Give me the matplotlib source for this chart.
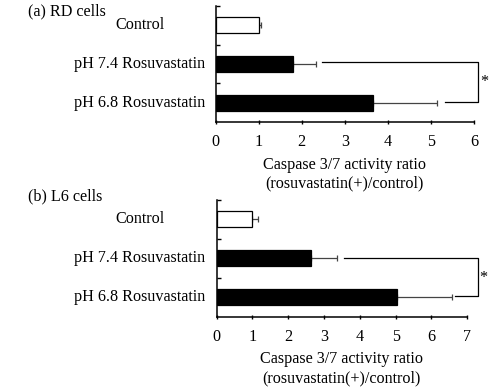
import matplotlib
matplotlib.use("Agg")
import matplotlib.pyplot as plt
import matplotlib.transforms as mtransforms

plt.rcParams['font.family'] = ['Liberation Serif', 'DejaVu Serif']

categories = ["Control", "pH 7.4 Rosuvastatin", "pH 6.8 Rosuvastatin"]
rd_values = [1.0, 1.80, 3.66]
rd_errors = [0.05, 0.53, 1.47]
l6_values = [1.0, 2.64, 5.04]
l6_errors = [0.17, 0.71, 1.53]
bar_colors = ["white", "black", "black"]
rd_xticks = [0, 1, 2, 3, 4, 5, 6]
l6_xticks = [0, 1, 2, 3, 4, 5, 6, 7]
panel_titles = ["(a) RD cells", "(b) L6 cells"]
xlabel = "Caspase 3/7 activity ratio\n(rosuvastatin(+)/control)"

W, H = 494, 387
FS = 11.6
fig = plt.figure(figsize=(W / 100, H / 100), dpi=100)

def px_axes(l, r, t, b):
    return fig.add_axes([l / W, 1 - b / H, (r - l) / W, (b - t) / H])

ax1 = px_axes(215.5, 474, 6, 122)
ax2 = px_axes(216.5, 467.3, 200, 316.7)

def draw(ax, values, errors, xticks, bracket, star):
    y = list(range(len(categories)))
    ax.barh(y, values, height=0.41, color=bar_colors, edgecolor="black", linewidth=0.9, zorder=2)
    ax.errorbar(values, y, xerr=[[0] * len(errors), errors], fmt="none",
                ecolor="#444444", elinewidth=0.9, capsize=2.5, capthick=0.9, zorder=1)
    ax.set_xlim(xticks[0], xticks[-1])
    ax.set_ylim(len(categories) - 0.5, -0.5)
    for s in ["top", "right"]:
        ax.spines[s].set_visible(False)
    for s in ["left", "bottom"]:
        ax.spines[s].set_linewidth(1.1)
    ax.set_xticks(xticks)
    ax.tick_params(axis="x", direction="inout", length=3, width=1.0, labelsize=FS, pad=7)
    ax.set_yticks([-0.5, 0.5, 1.5])
    ax.set_yticklabels([])
    ax.tick_params(axis="y", direction="in", length=3, width=1.0)
    trans = mtransforms.blended_transform_factory(fig.transFigure, ax.transData)
    for i, c in enumerate(categories):
        ax.text(139.5 / W, i, c, transform=trans, ha="center", va="center", fontsize=FS)
    ax.set_xlabel(xlabel, fontsize=FS, linespacing=1.25, labelpad=5)
    (x1a, x1b, y1), (x2a, x2b, y2) = bracket
    ax.plot([x1a, x1b, x1b, x2a], [y1, y1, y2, y2], color="black", lw=0.9, clip_on=False)
    ax.text(star[0], star[1], "*", ha="center", va="center", fontsize=FS, clip_on=False)

draw(ax1, rd_values, rd_errors, rd_xticks,
     [(2.47, 6.09, 0.94), (5.32, 6.09, 1.97)], (6.25, 1.47))
draw(ax2, l6_values, l6_errors, l6_xticks,
     [(3.56, 7.3, 0.98), (6.65, 7.3, 1.98)], (7.46, 1.5))

fig.text(28 / W, 1 - 11 / H, panel_titles[0], ha="left", va="center", fontsize=FS)
fig.text(28 / W, 1 - 196 / H, panel_titles[1], ha="left", va="center", fontsize=FS)

fig.savefig("out.png", dpi=100)
